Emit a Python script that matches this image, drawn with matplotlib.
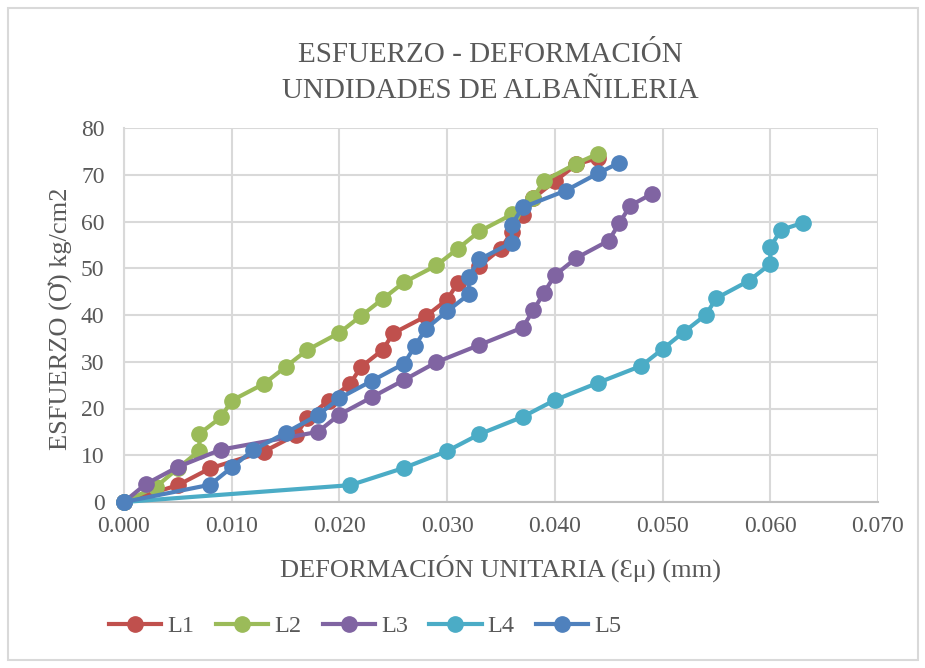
import matplotlib
matplotlib.use("Agg")
import matplotlib.pyplot as plt
from matplotlib.patches import Rectangle

plt.rcParams['font.family'] = ['Liberation Serif', 'DejaVu Serif']

# deformacion unitaria (x) y esfuerzo kg/cm2 (y) por muestra
l1_x = [0, 0.005, 0.008, 0.013, 0.016, 0.017, 0.019, 0.021, 0.022, 0.024, 0.025,
        0.028, 0.030, 0.031, 0.033, 0.035, 0.036, 0.037, 0.038, 0.040, 0.042, 0.044]
l1_y = [0, 3.6, 7.2, 10.8, 14.4, 18.0, 21.7, 25.3, 28.9, 32.5, 36.1,
        39.7, 43.3, 46.9, 50.5, 54.2, 57.8, 61.4, 65.0, 68.6, 72.2, 73.6]

l2_x = [0, 0.003, 0.005, 0.007, 0.007, 0.009, 0.010, 0.013, 0.015, 0.017, 0.020,
        0.022, 0.024, 0.026, 0.029, 0.031, 0.033, 0.036, 0.038, 0.039, 0.042, 0.044]
l2_y = [0, 3.3, 7.2, 11.0, 14.6, 18.1, 21.7, 25.3, 28.9, 32.5, 36.2,
        39.8, 43.4, 47.0, 50.6, 54.2, 57.9, 61.5, 65.1, 68.7, 72.4, 74.5]

l3_x = [0, 0.002, 0.005, 0.009, 0.018, 0.020, 0.023, 0.026, 0.029, 0.033,
        0.037, 0.038, 0.039, 0.040, 0.042, 0.045, 0.046, 0.047, 0.049]
l3_y = [0, 3.8, 7.5, 11.2, 15.0, 18.7, 22.4, 26.1, 29.9, 33.6,
        37.3, 41.0, 44.8, 48.5, 52.2, 55.9, 59.7, 63.4, 65.9]

l4_x = [0, 0.021, 0.026, 0.030, 0.033, 0.037, 0.040, 0.044, 0.048, 0.050,
        0.052, 0.054, 0.055, 0.058, 0.060, 0.060, 0.061, 0.063]
l4_y = [0, 3.6, 7.3, 10.9, 14.5, 18.2, 21.8, 25.5, 29.1, 32.7,
        36.4, 40.0, 43.6, 47.3, 50.9, 54.5, 58.2, 59.7]

l5_x = [0, 0.008, 0.010, 0.012, 0.015, 0.018, 0.020, 0.023, 0.026, 0.027, 0.028,
        0.030, 0.032, 0.032, 0.033, 0.036, 0.036, 0.037, 0.041, 0.044, 0.046]
l5_y = [0, 3.7, 7.4, 11.1, 14.8, 18.6, 22.2, 25.9, 29.6, 33.3, 37.0,
        40.8, 44.4, 48.2, 51.9, 55.5, 59.3, 63.0, 66.6, 70.3, 72.6]

series = [("L1", l1_x, l1_y, "#C0504D"),
          ("L2", l2_x, l2_y, "#9BBB59"),
          ("L3", l3_x, l3_y, "#8064A2"),
          ("L4", l4_x, l4_y, "#4BACC6"),
          ("L5", l5_x, l5_y, "#4F81BD")]

x_ticks = [0, 0.01, 0.02, 0.03, 0.04, 0.05, 0.06, 0.07]
y_ticks = [0, 10, 20, 30, 40, 50, 60, 70, 80]

txt = "#595959"
W, H = 925, 668

fig = plt.figure(figsize=(9.25, 6.68), dpi=100)
ax = fig.add_axes([124 / W, 1 - 502 / H, 754 / W, 374 / H])

for name, xs, ys, c in series:
    ax.plot(xs, ys, color=c, lw=3, marker="o", ms=11, label=name, clip_on=False, zorder=3)

ax.set_xlim(0, 0.07)
ax.set_ylim(0, 80)
ax.set_xticks(x_ticks)
ax.set_xticklabels(["%.3f" % v for v in x_ticks])
ax.set_yticks(y_ticks)
ax.grid(True, color="#D9D9D9", lw=1.5)
ax.set_axisbelow(True)
for s in ["top", "right"]:
    ax.spines[s].set_visible(False)
ax.spines["left"].set_color("#D9D9D9")
ax.spines["bottom"].set_color("#BFBFBF")
ax.spines["left"].set_linewidth(1.5)
ax.spines["bottom"].set_linewidth(1.5)
ax.tick_params(length=0, labelsize=17, labelcolor=txt)
ax.tick_params(axis="x", pad=10)
ax.tick_params(axis="y", pad=14)

# etiquetas de ejes y titulo en posiciones fijas de la figura
fig.text(500 / W, 1 - 568 / H, "DEFORMACIÓN UNITARIA (Ɛμ) (mm)", ha="center", va="center",
         fontsize=19, color=txt)
fig.text(60 / W, 1 - 319 / H, "ESFUERZO (Ơ) kg/cm2", ha="center", va="center",
         rotation=90, fontsize=19, color=txt)
fig.text(490 / W, 1 - 62 / H, "ESFUERZO - DEFORMACIÓN", ha="center", va="baseline",
         fontsize=21, color=txt)
fig.text(490 / W, 1 - 98 / H, "UNDIDADES DE ALBAÑILERIA", ha="center", va="baseline",
         fontsize=21, color=txt)

fig.legend(loc="center left", bbox_to_anchor=(109 / W, 1 - 626 / H),
           ncol=5, frameon=False, fontsize=17.5, labelcolor=txt, handlelength=2.15,
           columnspacing=0.88, handletextpad=0.25, borderpad=0, borderaxespad=0)

fig.patches.append(Rectangle((8 / W, 8 / H), 910 / W, 652 / H, transform=fig.transFigure,
                             fill=False, edgecolor="#D9D9D9", lw=1.5))

fig.savefig("out.png", dpi=100)
